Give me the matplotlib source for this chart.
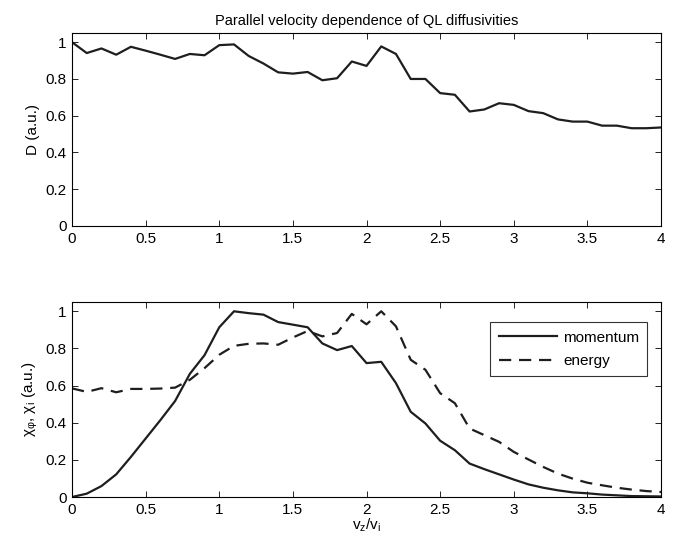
import numpy as np
import matplotlib
matplotlib.use('Agg')
import matplotlib.pyplot as plt

plt.rcParams['font.family'] = ['Liberation Sans', 'DejaVu Sans']
plt.rcParams['mathtext.default'] = 'regular'

# parallel velocity v_z/v_i
vz = np.round(np.arange(0, 4.01, 0.1), 1)

# quasilinear diffusivity D (a.u.)
D = [1.0, 0.941, 0.966, 0.932, 0.975, 0.954, 0.932, 0.909, 0.936, 0.929,
     0.984, 0.988, 0.925, 0.884, 0.836, 0.829, 0.838, 0.793, 0.804, 0.895,
     0.871, 0.977, 0.936, 0.80, 0.80, 0.723, 0.714, 0.623, 0.634, 0.668,
     0.659, 0.625, 0.614, 0.580, 0.568, 0.568, 0.546, 0.546, 0.532, 0.532,
     0.536]

# momentum and energy diffusivities (a.u.)
chi_mom = [0.0, 0.018, 0.059, 0.122, 0.216, 0.315, 0.414, 0.517, 0.663, 0.764,
           0.914, 1.0, 0.99, 0.982, 0.942, 0.928, 0.914, 0.827, 0.791, 0.813,
           0.721, 0.728, 0.613, 0.459, 0.396, 0.303, 0.252, 0.180, 0.150, 0.122,
           0.094, 0.068, 0.050, 0.036, 0.025, 0.020, 0.013, 0.009, 0.005, 0.004,
           0.003]
chi_en = [0.585, 0.566, 0.586, 0.564, 0.582, 0.582, 0.584, 0.589, 0.631, 0.694,
          0.766, 0.814, 0.825, 0.827, 0.820, 0.859, 0.894, 0.865, 0.883, 0.986,
          0.930, 1.0, 0.919, 0.739, 0.685, 0.559, 0.505, 0.369, 0.333, 0.297,
          0.243, 0.202, 0.162, 0.126, 0.099, 0.077, 0.063, 0.050, 0.040, 0.032,
          0.027]

xticks = [0, 0.5, 1, 1.5, 2, 2.5, 3, 3.5, 4]
xticklabels = ['0', '0.5', '1', '1.5', '2', '2.5', '3', '3.5', '4']
yticks = [0, 0.2, 0.4, 0.6, 0.8, 1]
yticklabels = ['0', '0.2', '0.4', '0.6', '0.8', '1']

lc = '#1e1e1e'

fig = plt.figure(figsize=(6.75, 5.43), dpi=100)
ax1 = fig.add_axes([0.1067, 0.5838, 0.8726, 0.3554])
ax2 = fig.add_axes([0.1067, 0.0847, 0.8726, 0.3591])

def style(ax):
    ax.set_xlim(0, 4)
    ax.set_ylim(0, 1.05)
    ax.set_xticks(xticks)
    ax.set_xticklabels(xticklabels)
    ax.set_yticks(yticks)
    ax.set_yticklabels(yticklabels)
    ax.tick_params(direction='in', top=True, right=True, length=4,
                   width=0.6, labelsize=11, pad=4)
    for s in ax.spines.values():
        s.set_linewidth(0.8)

ax1.plot(vz, D, color=lc, lw=1.6)
style(ax1)
ax1.set_ylabel('D (a.u.)', fontsize=11)
ax1.set_title('Parallel velocity dependence of QL diffusivities', fontsize=10.5, pad=6)

ax2.plot(vz, chi_mom, color=lc, lw=1.6, label='momentum')
ax2.plot(vz, chi_en, color=lc, lw=1.6, dashes=(5.5, 3.5), label='energy')
style(ax2)
ax2.set_ylabel(r'$\chi_\varphi$, $\chi_i$ (a.u.)', fontsize=11)
ax2.set_xlabel(r'$v_z/v_i$', fontsize=11, labelpad=0)
leg = ax2.legend(loc='upper right', bbox_to_anchor=(0.99, 0.935), fontsize=11,
                 frameon=True, fancybox=False, edgecolor='black',
                 handlelength=3.8, handletextpad=0.4, borderpad=0.55,
                 labelspacing=0.6)
leg.get_frame().set_linewidth(0.8)

fig.savefig('out.png', dpi=100)
